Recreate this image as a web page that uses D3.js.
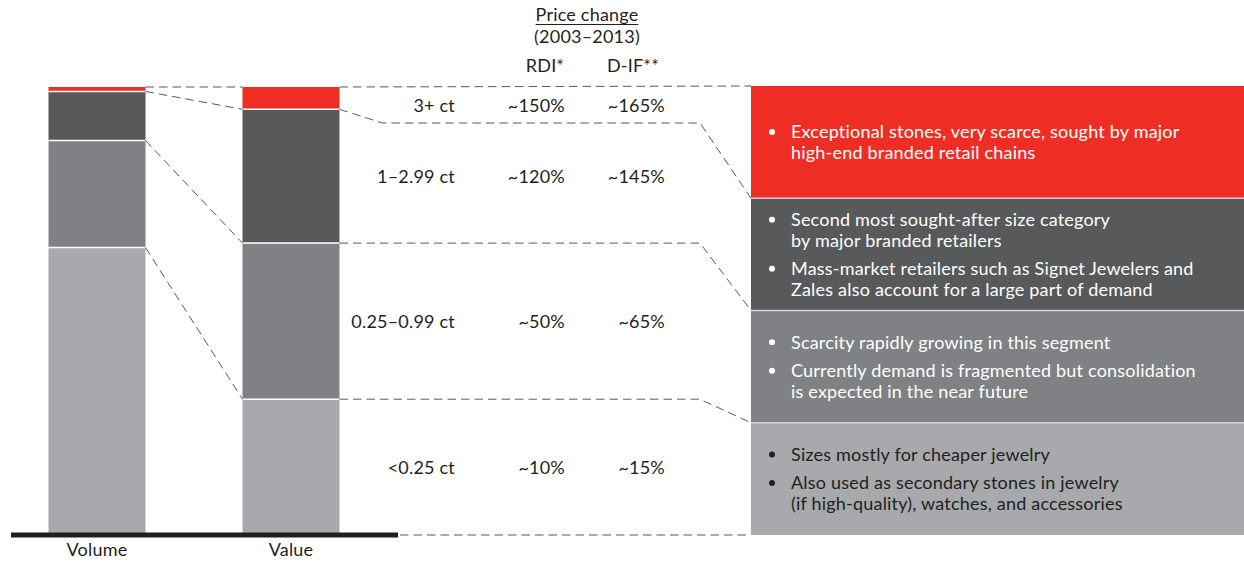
<!DOCTYPE html>
<html>
<head>
<meta charset="utf-8">
<script src="https://cdn.jsdelivr.net/npm/d3@7"></script>
<style>
  body { margin: 0; background: #fff; }
  svg text { font-family: Lato, "Noto Sans", sans-serif; letter-spacing: 0.2px; }
</style>
</head>
<body>
<div id="chart"></div>
<script>
// data, bottom segment first
const segments = ["<0.25 ct", "0.25–0.99 ct", "1–2.99 ct", "3+ ct"];
const bars = ["Volume", "Value"];
const volumeShare = [64, 24, 11, 1];
const valueShare = [30, 35, 30, 5];
const rdiChange = ["~10%", "~50%", "~120%", "~150%"];
const difChange = ["~15%", "~65%", "~145%", "~165%"];
const bullets = [
  [["Sizes mostly for cheaper jewelry"],
   ["Also used as secondary stones in jewelry", "(if high-quality), watches, and accessories"]],
  [["Scarcity rapidly growing in this segment"],
   ["Currently demand is fragmented but consolidation", "is expected in the near future"]],
  [["Second most sought-after size category", "by major branded retailers"],
   ["Mass-market retailers such as Signet Jewelers and", "Zales also account for a large part of demand"]],
  [["Exceptional stones, very scarce, sought by major", "high-end branded retail chains"]]
];

const colors = ["#a7a9ac", "#808184", "#58595b", "#ee2e24"];
const textColors = ["#231f20", "#fff", "#fff", "#fff"];
const fs = 18;

const W = 1244, H = 562;
const svg = d3.select("#chart").append("svg").attr("width", W).attr("height", H);

const y = d3.scaleLinear().domain([0, 100]).range([533, 87]);
const x = d3.scaleBand().domain(bars).range([0, 388]).paddingInner(0.5).paddingOuter(0.25);
// right-hand description boxes, top segment first
const boxY = d3.scaleBand().domain(segments.slice().reverse()).range([86, 535]);
const boxX0 = 751, boxX1 = W;

const stacked = d3.stack().keys(segments)([
  Object.fromEntries([["bar", "Volume"], ...segments.map((s, i) => [s, volumeShare[i]])]),
  Object.fromEntries([["bar", "Value"], ...segments.map((s, i) => [s, valueShare[i]])])
]);

// bars
const layer = svg.append("g").selectAll("g").data(stacked).join("g")
  .attr("fill", (d, i) => colors[i]);
layer.selectAll("rect").data(d => d).join("rect")
  .attr("x", d => x(d.data.bar))
  .attr("width", x.bandwidth())
  .attr("y", d => y(d[1]))
  .attr("height", d => y(d[0]) - y(d[1]));

// white separators inside bars
stacked.slice(1).forEach(s => {
  s.forEach(d => {
    svg.append("line")
      .attr("x1", x(d.data.bar)).attr("x2", x(d.data.bar) + x.bandwidth())
      .attr("y1", y(d[0])).attr("y2", y(d[0]))
      .attr("stroke", "#fff").attr("stroke-width", 1.5);
  });
});

// baseline
svg.append("rect").attr("x", 11).attr("y", 532.5).attr("width", 387).attr("height", 5).attr("fill", "#231f20");

svg.selectAll(".barlbl").data(bars).join("text")
  .attr("x", d => x(d) + x.bandwidth() / 2)
  .attr("y", 556)
  .attr("text-anchor", "middle")
  .attr("font-size", fs)
  .attr("fill", "#231f20")
  .text(d => d);

// boundaries between segments (top edges), from the top down
const volRight = x("Volume") + x.bandwidth();
const valLeft = x("Value");
const valRight = x("Value") + x.bandwidth();
let prev = null;
const bands = [];
[3, 2, 1, 0].forEach(i => {
  const vy = y(d3.sum(valueShare.slice(0, i + 1)));
  const ly = prev === null ? vy : Math.max(vy, prev + 36);
  bands.push({ i, vol: y(d3.sum(volumeShare.slice(0, i + 1))), val: vy, lbl: ly, box: boxY(segments[i]) });
  prev = ly;
});

const dash = g => g.attr("fill", "none").attr("stroke", "#58595b").attr("stroke-width", 1).attr("stroke-dasharray", "8.5,5");

bands.forEach((b, k) => {
  // volume -> value
  svg.append("line").call(dash)
    .attr("x1", volRight).attr("y1", b.vol).attr("x2", valLeft).attr("y2", b.val);
  let pts;
  if (k === 0) {
    pts = [[valRight, b.val], [boxX0, b.box]];
  } else {
    pts = [[valRight, b.val]];
    if (b.lbl !== b.val) pts.push([valRight + 43, b.lbl]);
    pts.push([700, b.lbl], [boxX0, b.box]);
  }
  svg.append("path").call(dash).attr("d", d3.line()(pts));
});
// bottom continuation
svg.append("line").call(dash).attr("x1", 400).attr("x2", boxX0).attr("y1", 535).attr("y2", 535);

// segment labels and price changes
const bandBottoms = bands.map((b, k) => k < bands.length - 1 ? bands[k + 1].lbl : 535);
bands.forEach((b, k) => {
  const segTop = b.val;
  const segBot = b.i > 0 ? y(d3.sum(valueShare.slice(0, b.i))) : 535;
  let cy = (segTop + segBot) / 2;
  cy = Math.max(cy, b.lbl + 21);
  cy = Math.min(cy, bandBottoms[k] - 18);
  const g = svg.append("g").attr("font-size", fs).attr("fill", "#231f20").attr("text-anchor", "end");
  g.append("text").attr("x", 455).attr("y", cy + 6.5).text(segments[b.i]);
  g.append("text").attr("x", 565).attr("y", cy + 6.5).text(rdiChange[b.i]);
  g.append("text").attr("x", 665).attr("y", cy + 6.5).text(difChange[b.i]);
});

// header
const hd = svg.append("g").attr("font-size", fs).attr("fill", "#231f20").attr("text-anchor", "middle");
const pc = hd.append("text").attr("x", 587).attr("y", 21).text("Price change");
const pw = pc.node().getComputedTextLength();
hd.append("line").attr("x1", 587 - pw / 2).attr("x2", 587 + pw / 2).attr("y1", 24.5).attr("y2", 24.5)
  .attr("stroke", "#231f20").attr("stroke-width", 1);
hd.append("text").attr("x", 587).attr("y", 43).text("(2003–2013)");
hd.append("text").attr("x", 545).attr("y", 72).text("RDI*");
hd.append("text").attr("x", 633).attr("y", 72).text("D-IF**");

// right boxes
segments.forEach((s, i) => {
  const top = boxY(s), h = boxY.bandwidth();
  svg.append("rect").attr("x", boxX0).attr("y", top).attr("width", boxX1 - boxX0).attr("height", h).attr("fill", colors[i]);
  const lines = [];
  bullets[i].forEach((b, bi) => b.forEach((t, li) => lines.push({ t, first: li === 0, gap: bi > 0 && li === 0 })));
  const lh = 20.5, gap = 8;
  const total = lines.length * lh + (bullets[i].length - 1) * gap;
  let cy = top + h / 2 - total / 2 + lh / 2;
  const g = svg.append("g").attr("font-size", fs).attr("fill", textColors[i]);
  lines.forEach(l => {
    if (l.gap) cy += gap;
    if (l.first) g.append("circle").attr("cx", 772).attr("cy", cy).attr("r", 3).attr("fill", textColors[i]);
    g.append("text").attr("x", 791).attr("y", cy + 6.5).text(l.t);
    cy += lh;
  });
});
// separators between boxes
segments.slice(0, 3).forEach(s => {
  svg.append("line").attr("x1", boxX0).attr("x2", boxX1)
    .attr("y1", boxY(s)).attr("y2", boxY(s))
    .attr("stroke", "#d1d3d4").attr("stroke-width", 1.5);
});
</script>
</body>
</html>
